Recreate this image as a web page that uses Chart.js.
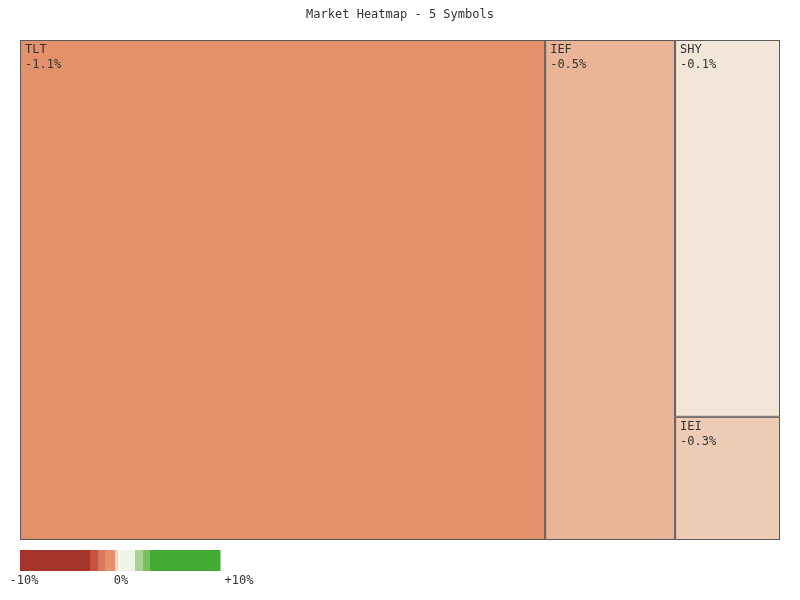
<!DOCTYPE html>
<html><head><meta charset="utf-8">
<script src="https://cdn.jsdelivr.net/npm/chart.js@4"></script>
<style>html,body{margin:0;padding:0;background:#fff}#w{width:800px;height:600px}</style>
</head><body><div id="w"><canvas id="c"></canvas></div>
<script>
const symbols = ['TLT','IEF','SHY','IEI'];
const weights = [69.1, 17.1, 10.4, 3.4];
const changes = [-1.1, -0.5, -0.1, -0.3];
const tileColors = ['#e4916b','#e9b497','#f2e6d8','#eecbb5'];
const legendStops = [['#a5352c',70],['#c9513f',8],['#d9785a',7],['#e4916b',10],['#f3d6c4',3],['#fbf3ec',2],['#eef5e6',15],['#a8d494',8],['#78c060',7],['#45a935',70]];

// layout in scale units (0..100 each axis): first two full-height columns, the rest stacked
function layout(){
  const total = weights.reduce((a,b)=>a+b,0);
  const rects=[]; let x=0;
  for(let i=0;i<2;i++){const w=weights[i]/total*100; rects.push([x,0,x+w,100]); x+=w;}
  const rest = weights.slice(2).reduce((a,b)=>a+b,0); let y=0;
  for(let i=2;i<weights.length;i++){const h=weights[i]/rest*100; rects.push([x,y,100,y+h]); y+=h;}
  return rects;
}
const treemap={id:'treemap',afterDatasetsDraw(chart){
  const {ctx,scales:{x,y}}=chart; const rects=layout();
  ctx.save();
  rects.forEach((r,i)=>{
    const l=x.getPixelForValue(r[0]),rr=x.getPixelForValue(r[2]);
    const t=y.getPixelForValue(r[1]),b=y.getPixelForValue(r[3]);
    ctx.fillStyle=tileColors[i]; ctx.fillRect(l,t,rr-l,b-t);
    ctx.strokeStyle='#5a5a5a'; ctx.lineWidth=1; ctx.strokeRect(l+0.5,t+0.5,rr-l-1,b-t-1);
    ctx.fillStyle='#333'; ctx.font='12px "DejaVu Sans Mono", monospace'; ctx.textBaseline='top';
    ctx.fillText(symbols[i],l+5,t+4);
    ctx.fillText(changes[i].toFixed(1)+'%',l+5,t+19);
  });
  // legend
  let lx=20; legendStops.forEach(([c,w])=>{ctx.fillStyle=c;ctx.fillRect(lx,550,w+0.5,21);lx+=w;});
  ctx.fillStyle='#333'; ctx.textAlign='center';
  ctx.fillText('-10%',24,575); ctx.fillText('0%',121,575); ctx.fillText('+10%',239,575);
  ctx.restore();
}};
new Chart(document.getElementById('c'),{
  type:'scatter',
  data:{datasets:[{data:[]}]},
  options:{responsive:true,maintainAspectRatio:false,animation:false,
    layout:{padding:{left:20,right:20,top:0,bottom:60}},
    scales:{x:{min:0,max:100,display:false},y:{min:0,max:100,reverse:true,display:false}},
    plugins:{legend:{display:false},tooltip:{enabled:false},
      title:{display:true,text:'Market Heatmap - 5 Symbols',color:'#333',
        font:{family:'"DejaVu Sans Mono", monospace',size:12,weight:'normal'},padding:{top:8,bottom:17.6}}}},
  plugins:[treemap]
});
</script></body></html>
